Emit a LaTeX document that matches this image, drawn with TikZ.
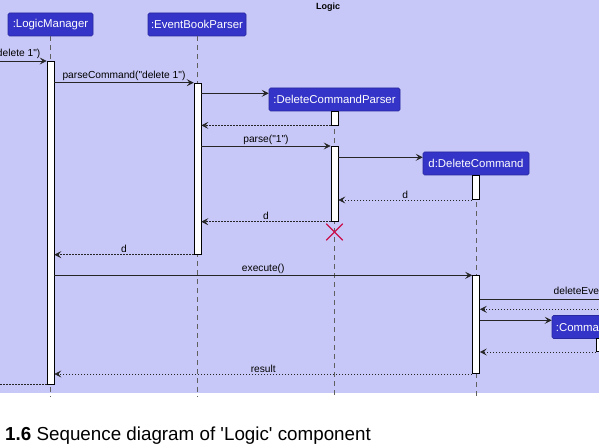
\documentclass[tikz,border=0pt]{standalone}
\usepackage{fontspec}
\newfontfamily\sfont{Liberation Sans}
\usetikzlibrary{arrows.meta,shapes.misc}
\definecolor{bg}{HTML}{C8C8F8}
\definecolor{pbox}{HTML}{3434C8}
\definecolor{pborder}{HTML}{2828A0}
\definecolor{xred}{HTML}{C8104A}
\definecolor{lline}{HTML}{606060}
\tikzset{
 participant/.style={draw=pborder, fill=pbox, text=white, rounded corners=1.5pt, minimum height=23pt, inner sep=0pt, font=\sfont\fontsize{11.4}{13}\selectfont, line width=0.6pt},
 actbar/.style={draw=black, fill=white, minimum width=7pt, inner sep=0pt, line width=0.7pt, anchor=north},
 lifeline/.style={draw=lline, dash pattern=on 4.5pt off 4.5pt, line width=0.6pt},
 msg/.style={draw=black!85, line width=0.7pt, -{Stealth[length=7pt,width=7pt,inset=3pt]}},
 ret/.style={msg, dash pattern=on 1.5pt off 1.5pt, line width=0.6pt},
 lbl/.style={font=\sfont\fontsize{10.2}{11}\selectfont, inner sep=1.5pt, anchor=south, text=black},
}
\begin{document}
\begin{tikzpicture}[x=1pt,y=-1pt]
\clip (0,0) rectangle (599,446);
\fill[bg] (0,0) rectangle (599,393);
\node[font=\sfont\bfseries\fontsize{9}{10}\selectfont] (title) at (328,7) {Logic};
% participants
\node[participant, minimum width=85pt] (lm) at (50.5,24.5) {:LogicManager};
\node[participant, minimum width=98pt] (ebp) at (197,24.5) {:EventBookParser};
\node[participant, minimum width=131pt] (dcp) at (334.5,99.5) {:DeleteCommandParser};
\node[participant, minimum width=106pt] (dc) at (476,163.5) {d:DeleteCommand};
\node[participant, minimum width=96pt] (cr) at (600,327) {:CommandResult};
% lifelines
\coordinate (bottom) at (0,397);
\draw[lifeline] (lm.south) -- (lm.south |- bottom);
\draw[lifeline] (ebp.south) -- (ebp.south |- bottom);
\draw[lifeline] (dcp.south) -- (dcp.south |- bottom);
\draw[lifeline] (dc.south) -- (dc.south |- bottom);
% activation bars
\node[actbar, minimum height=323pt] (lmA) at (50.5,61) {};
\node[actbar, minimum height=171pt] (ebpA) at (197.5,83) {};
\node[actbar, minimum height=13.7pt] (dcpA1) at (334.5,111) {};
\node[actbar, minimum height=75pt] (dcpA2) at (334.5,146) {};
\node[actbar, minimum height=24.3pt] (dcA1) at (476,175) {};
\node[actbar, minimum height=98pt] (dcA2) at (476,275.3) {};
\node[actbar, minimum height=13pt] (crA) at (600,338.3) {};
% messages
\coordinate (caller) at (-12,61);
\draw[msg] (caller) -- (lmA.north west);
\node[lbl, anchor=south east] (l0) at (42,60) {delete 1")};
\draw[msg] (lmA.east |- 0,82.7) -- (ebpA.west |- 0,82.7) node[lbl, midway] (l1) {parseCommand("delete 1")};
\draw[msg] (ebpA.east |- 0,93.3) -- (dcp.west |- 0,93.3);
\draw[ret] (dcpA1.south west) -- (ebpA.east |- dcpA1.south);
\draw[msg] (ebpA.east |- dcpA2.north) -- (dcpA2.north west) node[lbl, midway] (l2) {parse("1")};
\draw[msg] (dcpA2.east |- 0,157.3) -- (dc.west |- 0,157.3);
\draw[ret] (dcA1.south west) -- (dcpA2.east |- dcA1.south) node[lbl, midway] (l3) {d};
\draw[ret] (dcpA2.south west) -- (ebpA.east |- dcpA2.south) node[lbl, midway] (l4) {d};
\node[cross out, draw=xred, minimum size=15.5pt, line width=1.1pt] (destroy) at (334.5,232) {};
\draw[ret] (ebpA.south west) -- (lmA.east |- ebpA.south) node[lbl, midway] (l5) {d};
\draw[msg] (lmA.east |- dcA2.north) -- (dcA2.north west) node[lbl, midway] (l6) {execute()};
\coordinate (model) at (700,299.3);
\draw[msg] (dcA2.east |- model) -- (model);
\node[lbl, anchor=south west] (l7) at (552,298.5) {deleteEvent(d)};
\draw[ret] (model |- 0,309.3) -- (dcA2.east |- 0,309.3);
\draw[msg] (dcA2.east |- 0,320.3) -- (cr.west |- 0,320.3);
\draw[ret] (crA.south west) -- (dcA2.east |- crA.south);
\draw[ret] (dcA2.south west) -- (lmA.east |- dcA2.south) node[lbl, midway] (l8) {result};
\draw[ret] (lmA.south west) -- (caller |- lmA.south);
% caption
\node[anchor=base west, inner sep=0pt, font=\sfont\fontsize{18.8}{21}\selectfont] (cap) at (5,440) {\textbf{1.6} Sequence diagram of 'Logic' component};
\end{tikzpicture}
\end{document}
